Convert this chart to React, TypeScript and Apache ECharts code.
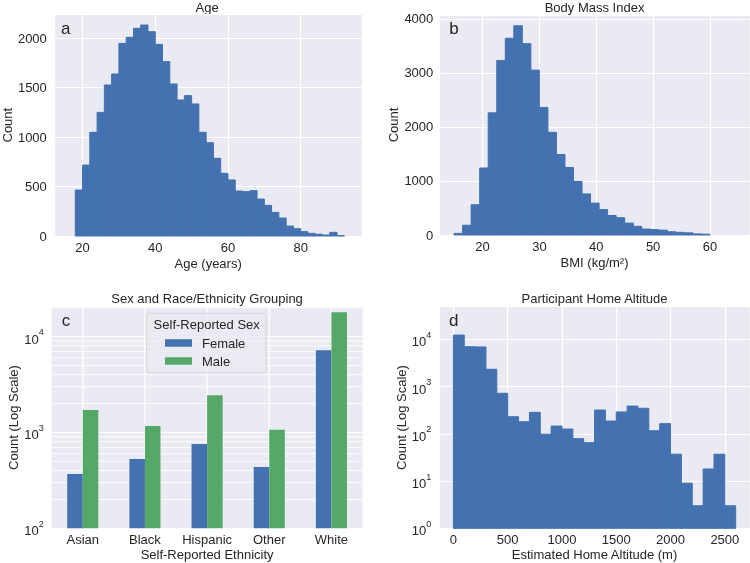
import React, { useEffect, useRef } from 'react';
import * as echarts from 'echarts';

// ---- Data ----
const ageStart = 18;
const ageBinWidth = 2;
const ageCounts = [465, 718, 1049, 1251, 1528, 1639, 1949, 2010, 2101, 2135, 2067, 1939, 1764, 1538, 1376, 1420, 1336, 1049, 944, 786, 634, 567, 455, 449, 459, 374, 310, 239, 182, 101, 74, 44, 27, 18, 10, 37, 3];

const bmiStart = 15;
const bmiBinWidth = 1.5;
const bmiCounts = [30, 180, 560, 1240, 2260, 3230, 3640, 3870, 3540, 3050, 2360, 1900, 1490, 1250, 990, 760, 590, 470, 360, 320, 220, 160, 110, 100, 90, 60, 50, 40, 20, 15];

const altStart = 0;
const altBinWidth = 100;
const altCounts = [12300, 6970, 6900, 2320, 720, 230, 180, 285, 98, 146, 126, 79, 65, 319, 186, 290, 386, 347, 116, 164, 37, 9, 3, 18, 37, 3];

const ethnicities = ['Asian', 'Black', 'Hispanic', 'Other', 'White'];
const femaleCounts = [369, 529, 759, 437, 7210];
const maleCounts = [1718, 1170, 2442, 1069, 17990];
const sexLabels = ['Female', 'Male'];

const minorLogLines = [200, 300, 400, 500, 600, 700, 800, 900, 2000, 3000, 4000, 5000, 6000, 7000, 8000, 9000, 20000];

const titles = ['Age', 'Body Mass Index', 'Sex and Race/Ethnicity Grouping', 'Participant Home Altitude'];
const panelLetters = ['a', 'b', 'c', 'd'];

// ---- Style ----
const FONT = '"Liberation Sans", Arial, Helvetica, sans-serif';
const TEXT = '#262626';
const BG = '#EAEAF2';
const BLUE = '#4472B0';
const GREEN = '#55A868';

const binTable = (start: number, width: number, counts: number[]) =>
  counts.map((c, i) => [start + i * width, start + (i + 1) * width, c]);

const histRender = (base: number) => (params: any, api: any) => {
  const x0 = api.value(0);
  const x1 = api.value(1);
  const y = api.value(2);
  const p0 = api.coord([x0, y]);
  const p1 = api.coord([x1, base]);
  return {
    type: 'rect',
    shape: { x: p0[0], y: p0[1], width: p1[0] - p0[0], height: p1[1] - p0[1] },
    style: { fill: BLUE, stroke: BLUE, lineWidth: 1 },
  };
};

const plainNum = (v: number) => String(v);

const logLabel = (v: number) => {
  const e = Math.log10(v);
  const r = Math.round(e);
  if (Math.abs(e - r) > 1e-6) return '';
  return `{b|10}{s|${r}}`;
};

const logRich = {
  b: { fontSize: 13, color: TEXT, fontFamily: FONT, padding: [5, 0, 0, 0] },
  s: { fontSize: 9, color: TEXT, fontFamily: FONT, verticalAlign: 'top' },
};

const grids = [
  { left: 51.7, top: 14.3, width: 310.8, height: 221.7 },
  { left: 439.3, top: 15, width: 310.5, height: 220 },
  { left: 51.7, top: 306.7, width: 310.8, height: 221.6 },
  { left: 439.3, top: 306.7, width: 310.5, height: 221.6 },
];

const splitLine = { show: true, lineStyle: { color: '#ffffff', width: 1.2 } };
const axisLabelBase = { color: TEXT, fontSize: 13, fontFamily: FONT };
const nameStyle = { color: TEXT, fontSize: 13, fontFamily: FONT };

export default function App() {
  const ref = useRef<HTMLDivElement>(null);

  useEffect(() => {
    if (!ref.current) return;
    const chart = echarts.init(ref.current, undefined, { renderer: 'svg' });

    const option: any = {
      animation: false,
      textStyle: { fontFamily: FONT, color: TEXT },
      grid: grids.map((g) => ({ ...g, show: true, backgroundColor: BG, borderWidth: 0, containLabel: false })),
      xAxis: [
        {
          gridIndex: 0, type: 'value', min: 12.1, max: 97,
          axisLine: { show: false }, axisTick: { show: false }, splitLine,
          axisLabel: { ...axisLabelBase, margin: 5, showMinLabel: false, showMaxLabel: false, formatter: plainNum },
          name: 'Age (years)', nameLocation: 'middle', nameGap: 21, nameTextStyle: nameStyle,
        },
        {
          gridIndex: 1, type: 'value', min: 12.4, max: 67,
          axisLine: { show: false }, axisTick: { show: false }, splitLine,
          axisLabel: { ...axisLabelBase, margin: 5, showMinLabel: false, showMaxLabel: false, formatter: plainNum },
          name: 'BMI (kg/m²)', nameLocation: 'middle', nameGap: 21, nameTextStyle: nameStyle,
        },
        {
          gridIndex: 2, type: 'category', data: ethnicities,
          axisLine: { show: false }, axisTick: { show: false }, splitLine: { show: false },
          axisLabel: { ...axisLabelBase, margin: 5, interval: 0 },
          name: 'Self-Reported Ethnicity', nameLocation: 'middle', nameGap: 20, nameTextStyle: nameStyle,
        },
        {
          gridIndex: 3, type: 'value', min: -130, max: 2730,
          axisLine: { show: false }, axisTick: { show: false }, splitLine,
          axisLabel: { ...axisLabelBase, margin: 5, showMinLabel: false, showMaxLabel: false, formatter: plainNum },
          name: 'Estimated Home Altitude (m)', nameLocation: 'middle', nameGap: 20, nameTextStyle: nameStyle,
        },
      ],
      yAxis: [
        {
          gridIndex: 0, type: 'value', min: 0, max: 2243,
          axisLine: { show: false }, axisTick: { show: false }, splitLine,
          axisLabel: { ...axisLabelBase, margin: 7, showMaxLabel: false, formatter: plainNum },
          name: 'Count', nameLocation: 'middle', nameRotate: 90, nameGap: 39, nameTextStyle: nameStyle,
        },
        {
          gridIndex: 1, type: 'value', min: 0, max: 4070,
          axisLine: { show: false }, axisTick: { show: false }, splitLine,
          axisLabel: { ...axisLabelBase, margin: 6, showMaxLabel: false, formatter: plainNum },
          name: 'Count', nameLocation: 'middle', nameRotate: 90, nameGap: 39, nameTextStyle: nameStyle,
        },
        {
          gridIndex: 2, type: 'log', min: 100, max: 20500, logBase: 10, splitNumber: 2,
          axisLine: { show: false }, axisTick: { show: false }, splitLine,
          axisLabel: { ...axisLabelBase, margin: 8, formatter: logLabel, rich: logRich },
          name: 'Count (Log Scale)', nameLocation: 'middle', nameRotate: 90, nameGap: 31, nameTextStyle: nameStyle,
        },
        {
          gridIndex: 3, type: 'log', min: 1, max: 49000, logBase: 10, splitNumber: 5,
          axisLine: { show: false }, axisTick: { show: false }, splitLine,
          axisLabel: { ...axisLabelBase, margin: 8, formatter: logLabel, rich: logRich },
          name: 'Count (Log Scale)', nameLocation: 'middle', nameRotate: 90, nameGap: 30, nameTextStyle: nameStyle,
        },
      ],
      legend: {
        data: sexLabels,
        orient: 'vertical',
        left: 165,
        top: 336,
        padding: 0,
        itemWidth: 27,
        itemHeight: 7.5,
        itemGap: 4,
        icon: 'rect',
        z: 10,
        textStyle: { color: TEXT, fontSize: 13, fontFamily: FONT, lineHeight: 14, padding: [0, 0, 0, 5] },
      },
      series: [
        {
          type: 'custom', name: 'age', xAxisIndex: 0, yAxisIndex: 0,
          data: binTable(ageStart, ageBinWidth, ageCounts),
          encode: { x: [0, 1], y: 2 }, renderItem: histRender(0), silent: true,
        },
        {
          type: 'custom', name: 'bmi', xAxisIndex: 1, yAxisIndex: 1,
          data: binTable(bmiStart, bmiBinWidth, bmiCounts),
          encode: { x: [0, 1], y: 2 }, renderItem: histRender(0), silent: true,
        },
        {
          type: 'custom', name: 'minor', xAxisIndex: 2, yAxisIndex: 2, z: 1, silent: true,
          data: minorLogLines.map((v) => [0, v]),
          encode: { x: 0, y: 1 },
          renderItem: (params: any, api: any) => {
            const cs = params.coordSys;
            const y = api.coord([0, api.value(1)])[1];
            return {
              type: 'line',
              shape: { x1: cs.x, y1: y, x2: cs.x + cs.width, y2: y },
              style: { stroke: '#ffffff', lineWidth: 0.9 },
            };
          },
        },
        {
          type: 'custom', name: 'vgrid', xAxisIndex: 2, yAxisIndex: 2, z: 1, silent: true,
          data: ethnicities.map((_, i) => [i, 100]),
          encode: { x: 0, y: 1 },
          renderItem: (params: any, api: any) => {
            const cs = params.coordSys;
            const x = api.coord([api.value(0), 1000])[0];
            return {
              type: 'line',
              shape: { x1: x, y1: cs.y, x2: x, y2: cs.y + cs.height },
              style: { stroke: '#ffffff', lineWidth: 1.2 },
            };
          },
        },
        {
          type: 'bar', name: 'Female', xAxisIndex: 2, yAxisIndex: 2, data: femaleCounts,
          itemStyle: { color: BLUE }, barGap: '0%', barCategoryGap: '50%', z: 3,
        },
        {
          type: 'bar', name: 'Male', xAxisIndex: 2, yAxisIndex: 2, data: maleCounts,
          itemStyle: { color: GREEN }, barGap: '0%', barCategoryGap: '50%', z: 3,
        },
        {
          type: 'custom', name: 'alt', xAxisIndex: 3, yAxisIndex: 3,
          data: binTable(altStart, altBinWidth, altCounts),
          encode: { x: [0, 1], y: 2 }, renderItem: histRender(1), silent: true,
        },
      ],
      graphic: [
        // titles
        ...titles.map((t, i) => ({
          type: 'text',
          x: grids[i].left + grids[i].width / 2,
          y: i < 2 ? 7.5 : 298.2,
          silent: true,
          style: { text: t, fontSize: 13, fontFamily: FONT, fill: TEXT, textAlign: 'center', textVerticalAlign: 'middle' },
        })),
        // panel letters
        ...panelLetters.map((t, i) => ({
          type: 'text',
          x: [61, 449.3, 61.7, 449][i],
          y: i < 2 ? 28 : 320.7,
          silent: true,
          z: 20,
          style: { text: t, fontSize: 17, fontFamily: FONT, fill: TEXT, textAlign: 'left', textVerticalAlign: 'middle' },
        })),
        // legend frame and title
        {
          type: 'rect',
          z: 5,
          silent: true,
          shape: { x: 146.7, y: 313.3, width: 119.3, height: 59.4, r: 3 },
          style: { fill: 'rgba(234,234,242,0.8)', stroke: '#cfcfd6', lineWidth: 0.8 },
        },
        {
          type: 'text',
          z: 6,
          silent: true,
          x: 206.7,
          y: 324.8,
          style: { text: 'Self-Reported Sex', fontSize: 13, fontFamily: FONT, fill: TEXT, textAlign: 'center', textVerticalAlign: 'middle' },
        },
      ],
    };

    chart.setOption(option);
    return () => chart.dispose();
  }, []);

  return <div ref={ref} style={{ position: 'fixed', left: 0, top: 0, width: 750, height: 563 }} />;
}
